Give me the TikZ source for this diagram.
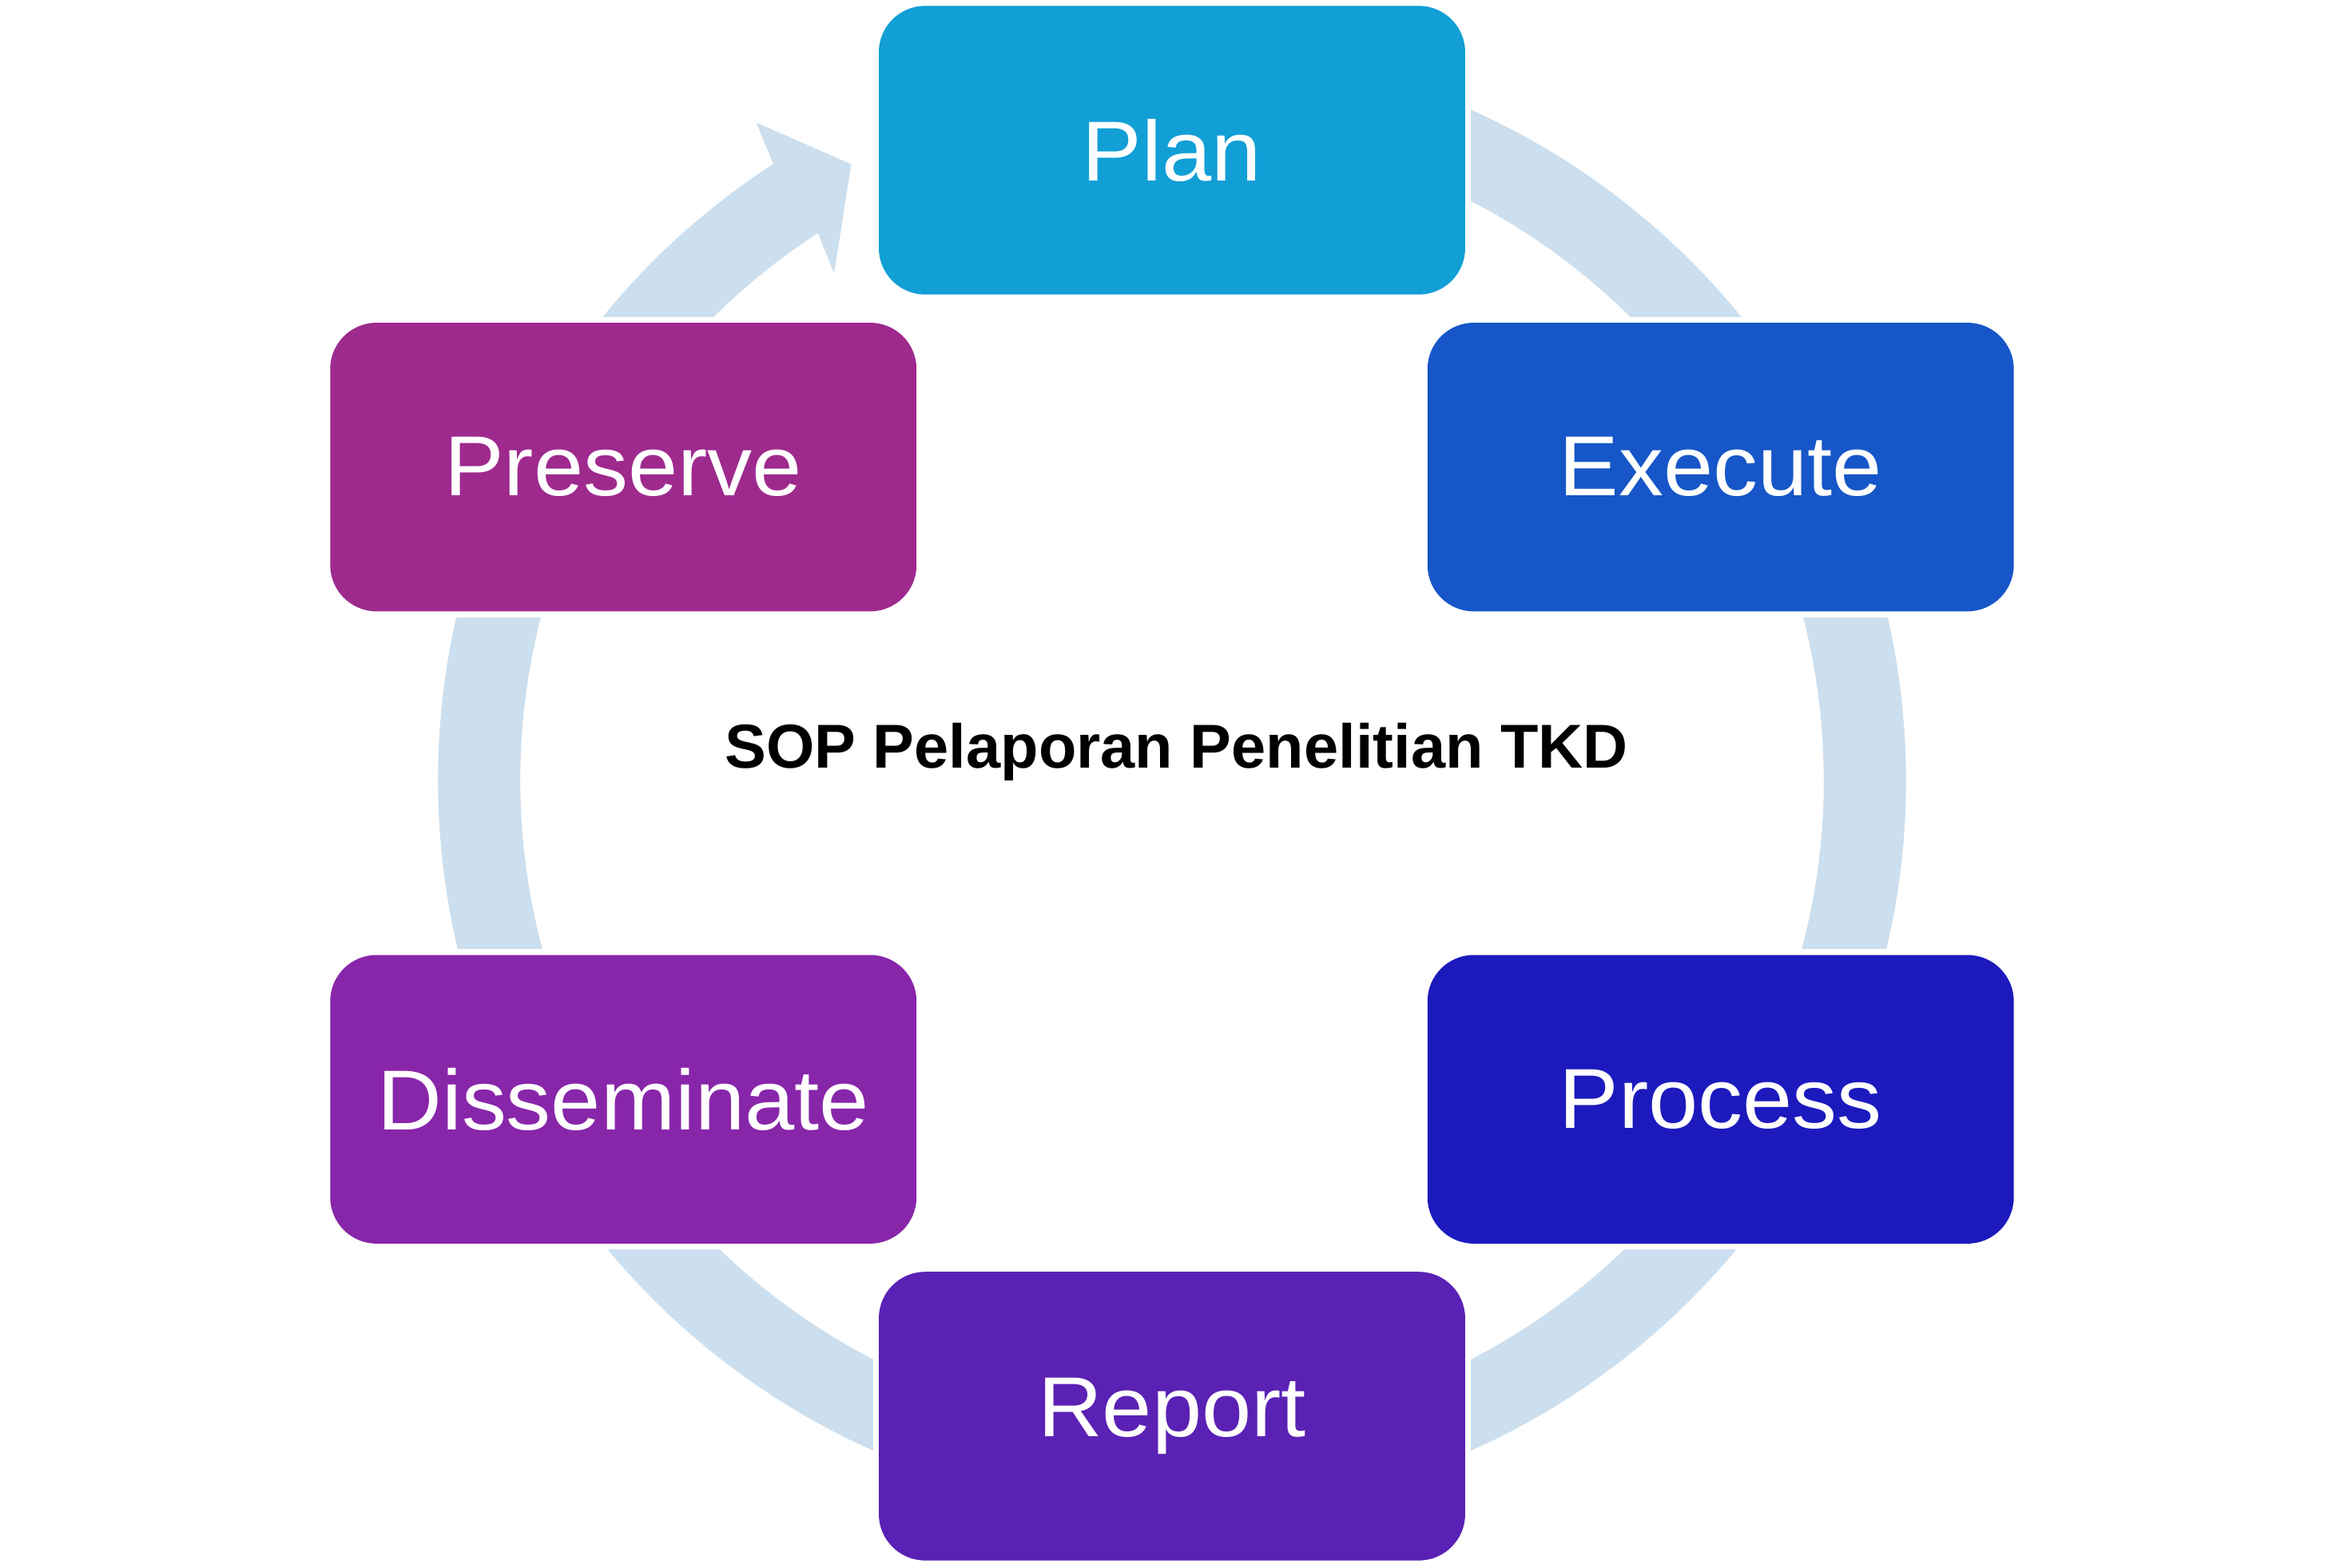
\documentclass[tikz,border=0pt]{standalone}
\usepackage{fontspec}
\setmainfont{Liberation Sans}
\newfontfamily\labfont[FakeStretch=1.05]{Liberation Sans}
\usetikzlibrary{calc}
\definecolor{ringc}{HTML}{CCDFEE}
\definecolor{cplan}{HTML}{119FD6}
\definecolor{cexec}{HTML}{1656C8}
\definecolor{cproc}{HTML}{1C1ABD}
\definecolor{crep}{HTML}{5A21B4}
\definecolor{cdiss}{HTML}{8826AA}
\definecolor{cpres}{HTML}{9E2A8E}
\tikzset{
  stagebox/.style={rounded corners=0.31cm, minimum width=3.92cm, minimum height=1.93cm,
    inner sep=0pt, outer sep=0pt, text=white, font=\labfont\fontsize{16.2}{19}\selectfont},
  titletext/.style={font=\fontsize{11.8}{14}\selectfont\bfseries, text=black, inner sep=0pt}
}
\begin{document}
\begin{tikzpicture}[x=0.01cm,y=0.01cm]
\useasboundingbox[fill=white] (0,0) rectangle (1568,1049);
% ring
\begin{scope}[shift={(784,527)}]
  \draw[ringc, line width=0.55cm] (95:463.5) arc[start angle=95, end angle=-238.5, radius=463.5];
  \fill[ringc] (122.9:491) -- (122.3:520.5) -- (117.5:464.7) -- (123.7:407.4) -- (122.9:436) -- cycle;
\end{scope}
% box positions
\coordinate (pplan) at (784,948.5);
\coordinate (pexec) at (1151,736.5);
\coordinate (pproc) at (1151,313.5);
\coordinate (prep) at (784,101.5);
\coordinate (pdiss) at (417,313.5);
\coordinate (ppres) at (417,736.5);
\foreach \p in {pplan,pexec,pproc,prep,pdiss,ppres}{
  \fill[white] ($(\p)+(-200,-100.5)$) rectangle ($(\p)+(200,100.5)$);
}
\node[stagebox, fill=cplan] (plan) at (pplan) {Plan};
\node[stagebox, fill=cexec] (execute) at (pexec) {Execute};
\node[stagebox, fill=cproc] (process) at (pproc) {Process};
\node[stagebox, fill=crep] (report) at (prep) {Report};
\node[stagebox, fill=cdiss] (disseminate) at (pdiss) {Disseminate};
\node[stagebox, fill=cpres] (preserve) at (ppres) {Preserve};
\node[titletext] (title) at (787,546) {SOP Pelaporan Penelitian TKD};
\end{tikzpicture}
\end{document}
